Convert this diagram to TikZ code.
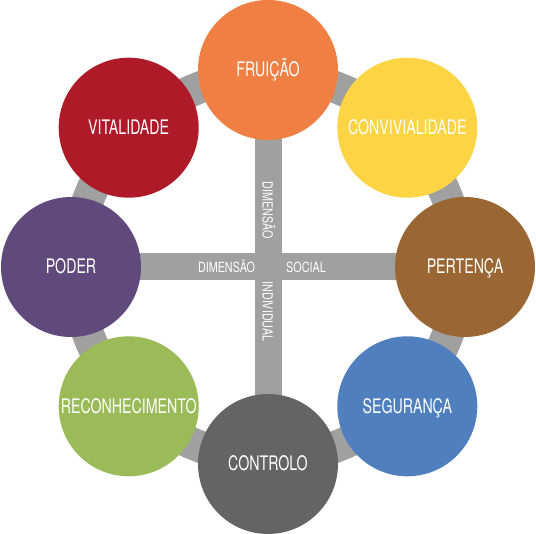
\documentclass[tikz,border=0pt]{standalone}
\usepackage{fontspec}
\newfontfamily\circfont{TeX Gyre Heros}[FakeStretch=0.71]
\newfontfamily\barfont{TeX Gyre Heros}[FakeStretch=0.77]
\usetikzlibrary{positioning,backgrounds}

\definecolor{cFru}{HTML}{EF7F43}
\definecolor{cCon}{HTML}{FDD444}
\definecolor{cPer}{HTML}{9A6633}
\definecolor{cSeg}{HTML}{4F80BD}
\definecolor{cCtl}{HTML}{646464}
\definecolor{cRec}{HTML}{9BBB59}
\definecolor{cPod}{HTML}{604A7B}
\definecolor{cVit}{HTML}{AE1A27}
\definecolor{cBar}{HTML}{A0A0A0}

\begin{document}
\begin{tikzpicture}[
  x=1pt, y=-1pt,
  val/.style={circle, inner sep=0pt, minimum size=140pt,
              text=white, text height=14pt, text depth=0pt,
              font=\circfont\fontsize{20}{24}\selectfont},
  bar/.style={draw=cBar, line width=27pt},
  ring/.style={draw=cBar, line width=32pt},
  dim/.style={text=white, inner sep=0pt, text height=10pt, text depth=0pt,
              font=\barfont\fontsize{14}{16}\selectfont}
]
\useasboundingbox (0,0) rectangle (536,534);

%% ── centre ──────────────────────────────────────────────────────────────
\coordinate (ctr) at (268,267);

%% ── value circles ───────────────────────────────────────────────────────
\node[val, fill=cFru] (fru) at (268,   70)    {FRUIÇÃO};
\node[val, fill=cCon] (con) at (407.3, 127.7) {CONVIVIALIDADE};
\node[val, fill=cPer] (per) at (465,   267)   {PERTENÇA};
\node[val, fill=cSeg] (seg) at (407.3, 406.3) {SEGURANÇA};
\node[val, fill=cCtl] (ctl) at (268,   464)   {CONTROLO};
\node[val, fill=cRec] (rec) at (128.7, 406.3) {RECONHECIMENTO};
\node[val, fill=cPod] (pod) at (71,    267)   {PODER};
\node[val, fill=cVit] (vit) at (128.7, 127.7) {VITALIDADE};

%% ── ring and cross behind the circles ───────────────────────────────────
\begin{scope}[on background layer]
  \draw[ring] (ctr) circle[radius=192];
  \draw[bar] (fru.center) -- (ctl.center);
  \draw[bar] (pod.center) -- (per.center);
\end{scope}

%% ── axis labels ─────────────────────────────────────────────────────────
\node[dim, rotate=-90] (dimv) at (267.5, 210)   {DIMENSÃO};
\node[dim, rotate=-90] (ind)  at (267.5, 311.5) {INDIVIDUAL};
\node[dim]             (dimh) at (226.5, 267.5) {DIMENSÃO};
\node[dim]             (soc)  at (306,   267.5) {SOCIAL};

\end{tikzpicture}
\end{document}
